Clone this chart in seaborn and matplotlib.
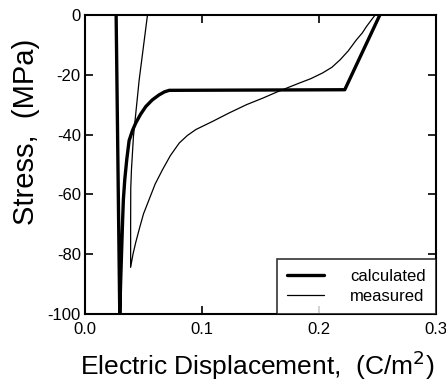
import matplotlib
matplotlib.use("Agg")
import matplotlib.pyplot as plt
import seaborn as sns
import pandas as pd

# Calculated curve (thick)
calc_d = [0.0266, 0.0297, 0.0304, 0.0312, 0.0322, 0.0328, 0.0340, 0.0357, 0.0377,
          0.0406, 0.0434, 0.0475, 0.0520, 0.0575, 0.0634, 0.0680, 0.0720, 0.2220, 0.2520]
calc_s = [0.0, -100.0, -90.0, -80.0, -68.0, -61.7, -55.0, -48.3, -42.0,
          -38.6, -36.1, -33.2, -30.6, -28.4, -26.7, -25.7, -25.2, -25.0, 0.0]

# Measured curve (thin)
meas_d = [0.0534, 0.0463, 0.0414, 0.0397, 0.0391, 0.0390, 0.0390, 0.0410, 0.0434,
          0.0463, 0.0500, 0.0548, 0.0600, 0.0663, 0.0730, 0.0806, 0.0875, 0.0948,
          0.1090, 0.1230, 0.1380, 0.1520, 0.1650, 0.1740, 0.1830, 0.1930, 0.2030,
          0.2110, 0.2180, 0.2250, 0.2320, 0.2370, 0.2405, 0.2445, 0.2480]
meas_s = [0.0, -21.7, -40.6, -51.7, -58.0, -70.0, -84.4, -80.0, -76.0,
          -71.7, -66.5, -61.7, -56.5, -51.7, -47.0, -42.8, -40.3, -38.3,
          -35.6, -32.8, -30.0, -27.8, -25.6, -24.2, -22.8, -21.3, -19.4,
          -17.5, -15.0, -12.0, -8.3, -6.0, -3.9, -1.8, 0.0]

labels = ["calculated", "measured"]
xticks = [0.0, 0.1, 0.2, 0.3]
xticklabels = ["0.0", "0.1", "0.2", "0.3"]
yticks = [0, -20, -40, -60, -80, -100]
yticklabels = ["0", "-20", "-40", "-60", "-80", "-100"]

df = pd.concat([
    pd.DataFrame({"D": calc_d, "S": calc_s, "series": labels[0], "order": range(len(calc_d))}),
    pd.DataFrame({"D": meas_d, "S": meas_s, "series": labels[1], "order": range(len(meas_d))}),
], ignore_index=True)

sns.set_style("ticks")
plt.rcParams["font.family"] = ["Liberation Sans", "DejaVu Sans"]
plt.rcParams["text.color"] = "black"
plt.rcParams["axes.labelcolor"] = "black"
plt.rcParams["xtick.color"] = "black"
plt.rcParams["ytick.color"] = "black"

fig = plt.figure(figsize=(4.46, 3.84), dpi=100)
ax = fig.add_axes([0.1906, 0.1823, 0.7870, 0.7787])

sns.lineplot(data=df, x="D", y="S", hue="series", size="series",
             sizes={labels[0]: 2.4, labels[1]: 0.9},
             palette={labels[0]: "black", labels[1]: "black"},
             sort=False, estimator=None, ax=ax, legend=True)

ax.set_xlim(0.0, 0.3)
ax.set_ylim(-100, 0)
ax.set_xticks(xticks)
ax.set_xticklabels(xticklabels, fontsize=12)
ax.set_yticks(yticks)
ax.set_yticklabels(yticklabels, fontsize=12)
ax.tick_params(direction="in", length=6, width=1.2, top=True, right=True,
               labelsize=12, colors="black")
ax.tick_params(axis="x", pad=6)
ax.tick_params(axis="y", pad=3)
for sp in ax.spines.values():
    sp.set_visible(True)
    sp.set_linewidth(1.5)
    sp.set_color("black")

ax.set_xlabel("Electric Displacement,  (C/m$^2$)", fontsize=19, color="black")
ax.xaxis.set_label_coords(0.49, -0.115)
ax.set_ylabel("Stress,  (MPa)", fontsize=21, color="black")
ax.yaxis.set_label_coords(-0.128, 0.61)

handles, lbls = ax.get_legend_handles_labels()
leg = ax.legend(handles=handles, labels=lbls, loc="lower right",
                bbox_to_anchor=(1.0, 0.0), borderaxespad=0, frameon=True,
                fancybox=False, fontsize=12, handlelength=2.2, handletextpad=1.6,
                borderpad=0.6, labelspacing=0.3)
leg.get_frame().set_edgecolor("black")
leg.get_frame().set_linewidth(1.2)
for lh, w in zip(leg.get_lines(), [2.4, 0.9]):
    lh.set_linewidth(w)
    lh.set_color("black")
for t in leg.get_texts():
    t.set_color("black")

fig.savefig("out.png", dpi=100)
